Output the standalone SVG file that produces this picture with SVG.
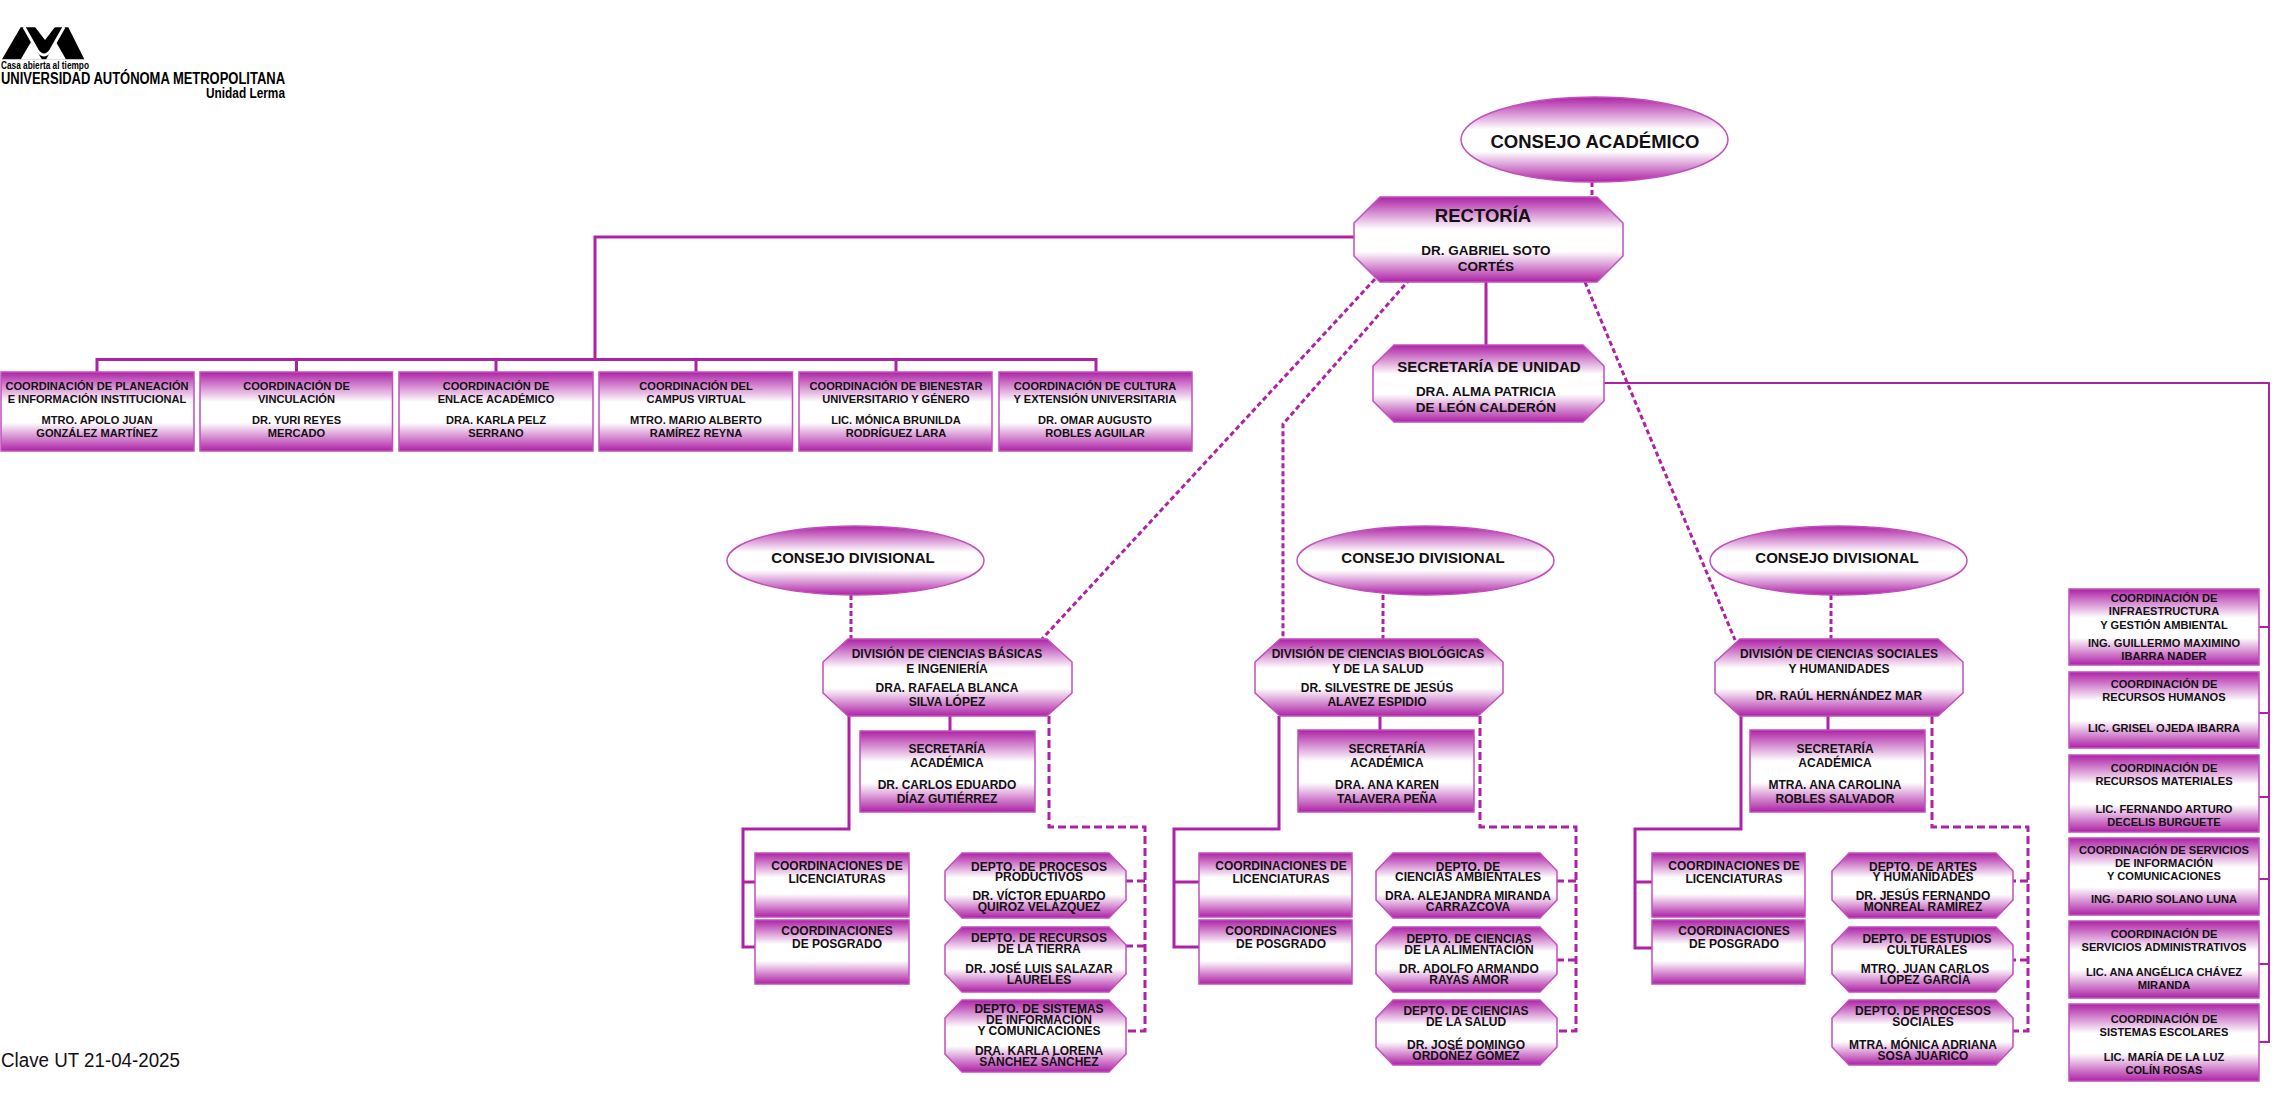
<svg xmlns="http://www.w3.org/2000/svg" width="2286" height="1100" viewBox="0 0 2286 1100">
<style>
text{font-family:"Liberation Sans",Arial,sans-serif;font-weight:bold;fill:#141014;text-anchor:middle}
.b{fill:url(#g);stroke:#c050ba;stroke-width:1.5}
.s{fill:none;stroke:#ae22a6;stroke-width:3}
.n{fill:none;stroke:#ae22a6;stroke-width:2}
.d{fill:none;stroke:#ae22a6;stroke-width:3;stroke-dasharray:8 4}
.e{fill:none;stroke:#ae22a6;stroke-width:3;stroke-dasharray:5 3}
.f20{font-size:18.5px}.f16{font-size:15px}.f15{font-size:13.5px}.f14{font-size:15px}.f12{font-size:12px}.f11{font-size:11.1px}
</style>
<defs>
<linearGradient id="g" x1="0" y1="0" x2="0" y2="1">
<stop offset="0" stop-color="#ae22a6"/><stop offset="0.38" stop-color="#fff"/><stop offset="0.64" stop-color="#fff"/><stop offset="1" stop-color="#ae22a6"/>
</linearGradient>
</defs>
<rect width="2286" height="1100" fill="#fff"/>
<g id="logo">
<polygon points="2,59.300 20.700,27.300 68.300,27.300 84.300,59.300" fill="#000"/>
<polygon points="35,27 55,27 45,40" fill="#fff"/>
<path d="M24,27L37,50Q44,60 51,50L64,27" fill="none" stroke="#fff" stroke-width="3"/>
<polygon points="20.700,59.500 31,42 42,59.500" fill="#fff"/>
<polygon points="66,59.500 56,42 46,59.500" fill="#fff"/>
<text x="1" y="69" style="font-size:10.5px;text-anchor:start;fill:#000" textLength="88" lengthAdjust="spacingAndGlyphs">Casa abierta al tiempo</text>
<text x="1" y="84" style="font-size:16px;text-anchor:start;fill:#000" textLength="284" lengthAdjust="spacingAndGlyphs">UNIVERSIDAD AUTÓNOMA METROPOLITANA</text>
<text x="285" y="98" style="font-size:14px;text-anchor:end;fill:#000" textLength="79" lengthAdjust="spacingAndGlyphs">Unidad Lerma</text>
</g>
<text id="clave" x="1" y="1067" style="font-size:19.5px;font-weight:normal;text-anchor:start" textLength="179" lengthAdjust="spacingAndGlyphs">Clave UT 21-04-2025</text>
<g id="connectors">
<path class="e" d="M1592 182V197"/>
<path class="s" d="M1354 237H595V359.5M97 372V359.5H1096V372M296.5 372V359.5M496 372V359.5M696 372V359.5M896 372V359.5"/>
<path class="s" d="M1486 282V345"/>
<path class="n" d="M1604 383H2269V1042H2259M2259 627H2269M2259 713H2269M2259 797H2269M2259 879H2269M2259 964H2269"/>
<path class="e" d="M1375 279L1042 639"/>
<path class="e" d="M1410 279L1283 424V639"/>
<path class="e" d="M1585 282L1735 640"/>
<path class="e" d="M851 595V639"/>
<path class="e" d="M1383 595V639"/>
<path class="e" d="M1831 595V639"/>
<path class="s" d="M950 716V731M849 716V829H743V947H755M743 882H755"/>
<path class="d" d="M1049 716V827H1145V1031H1126M1145 881H1126M1145 946H1126"/>
<path class="s" d="M1380 716V730M1279 716V829H1174V947H1199M1174 882H1199"/>
<path class="d" d="M1480 716V827H1576V1031H1557M1576 881H1557M1576 960H1557"/>
<path class="s" d="M1828 716V730M1741 716V829H1635V948H1652M1635 882H1652"/>
<path class="d" d="M1932 716V827H2028V1031H2013M2028 881H2013M2028 960H2013"/>
</g>
<g id="consejo-academico"><ellipse class="b" cx="1594.5" cy="139.5" rx="133.5" ry="42.5"/><text class="f20" x="1595" y="148">CONSEJO ACADÉMICO</text></g>
<g id="rectoria"><polygon class="b" points="1380,197 1597,197 1623,223 1623,256 1597,282 1380,282 1354,256 1354,223"/><text class="f20" x="1483" y="222">RECTORÍA</text><text class="f15" x="1486" y="255">DR. GABRIEL SOTO</text><text class="f15" x="1486" y="271">CORTÉS</text></g>
<g id="secretaria-unidad"><polygon class="b" points="1394,345 1583,345 1604,366 1604,401 1583,422 1394,422 1373,401 1373,366"/><text class="f16" x="1489" y="372">SECRETARÍA DE UNIDAD</text><text class="f15" x="1486" y="396">DRA. ALMA PATRICIA</text><text class="f15" x="1486" y="412">DE LEÓN CALDERÓN</text></g>
<g id="coord-1"><rect class="b" x="1" y="372" width="193" height="79"/><text class="f11" x="97" y="390">COORDINACIÓN DE PLANEACIÓN</text><text class="f11" x="97" y="403">E INFORMACIÓN INSTITUCIONAL</text><text class="f11" x="97" y="424">MTRO. APOLO JUAN</text><text class="f11" x="97" y="437">GONZÁLEZ MARTÍNEZ</text></g>
<g id="coord-2"><rect class="b" x="200" y="372" width="192.500" height="79"/><text class="f11" x="296.500" y="390">COORDINACIÓN DE</text><text class="f11" x="296.500" y="403">VINCULACIÓN</text><text class="f11" x="296.500" y="424">DR. YURI REYES</text><text class="f11" x="296.500" y="437">MERCADO</text></g>
<g id="coord-3"><rect class="b" x="399" y="372" width="194" height="79"/><text class="f11" x="496" y="390">COORDINACIÓN DE</text><text class="f11" x="496" y="403">ENLACE ACADÉMICO</text><text class="f11" x="496" y="424">DRA. KARLA PELZ</text><text class="f11" x="496" y="437">SERRANO</text></g>
<g id="coord-4"><rect class="b" x="599" y="372" width="193.500" height="79"/><text class="f11" x="696" y="390">COORDINACIÓN DEL</text><text class="f11" x="696" y="403">CAMPUS VIRTUAL</text><text class="f11" x="696" y="424">MTRO. MARIO ALBERTO</text><text class="f11" x="696" y="437">RAMÍREZ REYNA</text></g>
<g id="coord-5"><rect class="b" x="799" y="372" width="193" height="79"/><text class="f11" x="896" y="390">COORDINACIÓN DE BIENESTAR</text><text class="f11" x="896" y="403">UNIVERSITARIO Y GÉNERO</text><text class="f11" x="896" y="424">LIC. MÓNICA BRUNILDA</text><text class="f11" x="896" y="437">RODRÍGUEZ LARA</text></g>
<g id="coord-6"><rect class="b" x="999" y="372" width="193" height="79"/><text class="f11" x="1095" y="390">COORDINACIÓN DE CULTURA</text><text class="f11" x="1095" y="403">Y EXTENSIÓN UNIVERSITARIA</text><text class="f11" x="1095" y="424">DR. OMAR AUGUSTO</text><text class="f11" x="1095" y="437">ROBLES AGUILAR</text></g>

<g id="consejo-div-1"><ellipse class="b" cx="855.500" cy="560.500" rx="128.500" ry="34.500"/><text class="f14" x="853" y="562.500">CONSEJO DIVISIONAL</text></g>
<g id="consejo-div-2"><ellipse class="b" cx="1425.500" cy="560.500" rx="128.500" ry="34.500"/><text class="f14" x="1423" y="562.500">CONSEJO DIVISIONAL</text></g>
<g id="consejo-div-3"><ellipse class="b" cx="1838.500" cy="560.500" rx="128.500" ry="34.500"/><text class="f14" x="1837" y="562.500">CONSEJO DIVISIONAL</text></g>

<g id="division-1"><polygon class="b" points="848,639 1047,639 1072,662 1072,693 1047,716 848,716 823,693 823,662"/><text class="f12" x="947" y="658">DIVISIÓN DE CIENCIAS BÁSICAS</text><text class="f12" x="947" y="673">E INGENIERÍA</text><text class="f12" x="947" y="692">DRA. RAFAELA BLANCA</text><text class="f12" x="947" y="706">SILVA LÓPEZ</text></g>
<g id="sec-acad-1"><rect class="b" x="860" y="731" width="175" height="81"/><text class="f12" x="947" y="753">SECRETARÍA</text><text class="f12" x="947" y="767">ACADÉMICA</text><text class="f12" x="947" y="789">DR. CARLOS EDUARDO</text><text class="f12" x="947" y="803">DÍAZ GUTIÉRREZ</text></g>
<g id="lic-1"><rect class="b" x="755" y="853" width="154" height="64"/><text class="f12" x="837" y="870">COORDINACIONES DE</text><text class="f12" x="837" y="883">LICENCIATURAS</text></g>
<g id="pos-1"><rect class="b" x="755" y="920" width="154" height="64"/><text class="f12" x="837" y="935">COORDINACIONES</text><text class="f12" x="837" y="948">DE POSGRADO</text></g>
<g id="depto-1-1"><polygon class="b" points="962,853 1109,853 1126,871 1126,900 1109,918 962,918 945,900 945,871"/><text class="f12" x="1039" y="871">DEPTO. DE PROCESOS</text><text class="f12" x="1039" y="881">PRODUCTIVOS</text><text class="f12" x="1039" y="900">DR. VÍCTOR EDUARDO</text><text class="f12" x="1039" y="911">QUIROZ VELÁZQUEZ</text></g>
<g id="depto-1-2"><polygon class="b" points="962,927 1109,927 1126,945 1126,974 1109,992 962,992 945,974 945,945"/><text class="f12" x="1039" y="942">DEPTO. DE RECURSOS</text><text class="f12" x="1039" y="953">DE LA TIERRA</text><text class="f12" x="1039" y="973">DR. JOSÉ LUIS SALAZAR</text><text class="f12" x="1039" y="984">LAURELES</text></g>
<g id="depto-1-3"><polygon class="b" points="962,1000 1109,1000 1126,1018 1126,1054 1109,1072 962,1072 945,1054 945,1018"/><text class="f12" x="1039" y="1013">DEPTO. DE SISTEMAS</text><text class="f12" x="1039" y="1024">DE INFORMACIÓN</text><text class="f12" x="1039" y="1035">Y COMUNICACIONES</text><text class="f12" x="1039" y="1055">DRA. KARLA LORENA</text><text class="f12" x="1039" y="1066">SÁNCHEZ SÁNCHEZ</text></g>

<g id="division-2"><polygon class="b" points="1280,639 1478,639 1503,662 1503,693 1478,716 1280,716 1255,693 1255,662"/><text class="f12" x="1378" y="658">DIVISIÓN DE CIENCIAS BIOLÓGICAS</text><text class="f12" x="1378" y="673">Y DE LA SALUD</text><text class="f12" x="1377" y="692">DR. SILVESTRE DE JESÚS</text><text class="f12" x="1377" y="706">ALAVEZ ESPIDIO</text></g>
<g id="sec-acad-2"><rect class="b" x="1298" y="730" width="176" height="82"/><text class="f12" x="1387" y="753">SECRETARÍA</text><text class="f12" x="1387" y="767">ACADÉMICA</text><text class="f12" x="1387" y="789">DRA. ANA KAREN</text><text class="f12" x="1387" y="803">TALAVERA PEÑA</text></g>
<g id="lic-2"><rect class="b" x="1199" y="853" width="153" height="64"/><text class="f12" x="1281" y="870">COORDINACIONES DE</text><text class="f12" x="1281" y="883">LICENCIATURAS</text></g>
<g id="pos-2"><rect class="b" x="1199" y="920" width="153" height="64"/><text class="f12" x="1281" y="935">COORDINACIONES</text><text class="f12" x="1281" y="948">DE POSGRADO</text></g>
<g id="depto-2-1"><polygon class="b" points="1393,853 1540,853 1557,871 1557,900 1540,918 1393,918 1376,900 1376,871"/><text class="f12" x="1468" y="871">DEPTO. DE</text><text class="f12" x="1468" y="881">CIENCIAS AMBIENTALES</text><text class="f12" x="1468" y="900">DRA. ALEJANDRA MIRANDA</text><text class="f12" x="1468" y="911">CARRAZCOVA</text></g>
<g id="depto-2-2"><polygon class="b" points="1393,927 1540,927 1557,945 1557,974 1540,992 1393,992 1376,974 1376,945"/><text class="f12" x="1469" y="943">DEPTO. DE CIENCIAS</text><text class="f12" x="1469" y="954">DE LA ALIMENTACIÓN</text><text class="f12" x="1469" y="973">DR. ADOLFO ARMANDO</text><text class="f12" x="1469" y="984">RAYAS AMOR</text></g>
<g id="depto-2-3"><polygon class="b" points="1393,1000 1540,1000 1557,1018 1557,1047 1540,1065 1393,1065 1376,1047 1376,1018"/><text class="f12" x="1466" y="1015">DEPTO. DE CIENCIAS</text><text class="f12" x="1466" y="1026">DE LA SALUD</text><text class="f12" x="1466" y="1049">DR. JOSÉ DOMINGO</text><text class="f12" x="1466" y="1060">ORDOÑEZ GÓMEZ</text></g>

<g id="division-3"><polygon class="b" points="1740,639 1938,639 1963,662 1963,693 1938,716 1740,716 1715,693 1715,662"/><text class="f12" x="1839" y="658">DIVISIÓN DE CIENCIAS SOCIALES</text><text class="f12" x="1839" y="673">Y HUMANIDADES</text><text class="f12" x="1839" y="700">DR. RAÚL HERNÁNDEZ MAR</text></g>
<g id="sec-acad-3"><rect class="b" x="1750" y="730" width="175" height="82"/><text class="f12" x="1835" y="753">SECRETARÍA</text><text class="f12" x="1835" y="767">ACADÉMICA</text><text class="f12" x="1835" y="789">MTRA. ANA CAROLINA</text><text class="f12" x="1835" y="803">ROBLES SALVADOR</text></g>
<g id="lic-3"><rect class="b" x="1652" y="853" width="153" height="64"/><text class="f12" x="1734" y="870">COORDINACIONES DE</text><text class="f12" x="1734" y="883">LICENCIATURAS</text></g>
<g id="pos-3"><rect class="b" x="1652" y="920" width="153" height="64"/><text class="f12" x="1734" y="935">COORDINACIONES</text><text class="f12" x="1734" y="948">DE POSGRADO</text></g>
<g id="depto-3-1"><polygon class="b" points="1849,853 1996,853 2013,871 2013,900 1996,918 1849,918 1832,900 1832,871"/><text class="f12" x="1923" y="871">DEPTO. DE ARTES</text><text class="f12" x="1923" y="881">Y HUMANIDADES</text><text class="f12" x="1923" y="900">DR. JESÚS FERNANDO</text><text class="f12" x="1923" y="911">MONREAL RAMÍREZ</text></g>
<g id="depto-3-2"><polygon class="b" points="1849,927 1996,927 2013,945 2013,974 1996,992 1849,992 1832,974 1832,945"/><text class="f12" x="1927" y="943">DEPTO. DE ESTUDIOS</text><text class="f12" x="1927" y="954">CULTURALES</text><text class="f12" x="1925" y="973">MTRO. JUAN CARLOS</text><text class="f12" x="1925" y="984">LÓPEZ GARCÍA</text></g>
<g id="depto-3-3"><polygon class="b" points="1849,1000 1996,1000 2013,1018 2013,1047 1996,1065 1849,1065 1832,1047 1832,1018"/><text class="f12" x="1923" y="1015">DEPTO. DE PROCESOS</text><text class="f12" x="1923" y="1026">SOCIALES</text><text class="f12" x="1923" y="1049">MTRA. MÓNICA ADRIANA</text><text class="f12" x="1923" y="1060">SOSA JUARICO</text></g>

<g id="admin-1"><rect class="b" x="2069" y="589" width="190" height="76"/><text class="f11" x="2164" y="602">COORDINACIÓN DE</text><text class="f11" x="2164" y="615">INFRAESTRUCTURA</text><text class="f11" x="2164" y="629">Y GESTIÓN AMBIENTAL</text><text class="f11" x="2164" y="647">ING. GUILLERMO MAXIMINO</text><text class="f11" x="2164" y="660">IBARRA NADER</text></g>
<g id="admin-2"><rect class="b" x="2069" y="672" width="190" height="76"/><text class="f11" x="2164" y="688">COORDINACIÓN DE</text><text class="f11" x="2164" y="701">RECURSOS HUMANOS</text><text class="f11" x="2164" y="732">LIC. GRISEL OJEDA IBARRA</text></g>
<g id="admin-3"><rect class="b" x="2069" y="755" width="190" height="77"/><text class="f11" x="2164" y="772">COORDINACIÓN DE</text><text class="f11" x="2164" y="785">RECURSOS MATERIALES</text><text class="f11" x="2164" y="813">LIC. FERNANDO ARTURO</text><text class="f11" x="2164" y="826">DECELIS BURGUETE</text></g>
<g id="admin-4"><rect class="b" x="2069" y="838" width="190" height="77"/><text class="f11" x="2164" y="854">COORDINACIÓN DE SERVICIOS</text><text class="f11" x="2164" y="867">DE INFORMACIÓN</text><text class="f11" x="2164" y="880">Y COMUNICACIONES</text><text class="f11" x="2164" y="903">ING. DARIO SOLANO LUNA</text></g>
<g id="admin-5"><rect class="b" x="2069" y="921" width="190" height="77"/><text class="f11" x="2164" y="938">COORDINACIÓN DE</text><text class="f11" x="2164" y="951">SERVICIOS ADMINISTRATIVOS</text><text class="f11" x="2164" y="976">LIC. ANA ANGÉLICA CHÁVEZ</text><text class="f11" x="2164" y="989">MIRANDA</text></g>
<g id="admin-6"><rect class="b" x="2069" y="1004" width="190" height="77"/><text class="f11" x="2164" y="1023">COORDINACIÓN DE</text><text class="f11" x="2164" y="1036">SISTEMAS ESCOLARES</text><text class="f11" x="2164" y="1061">LIC. MARÍA DE LA LUZ</text><text class="f11" x="2164" y="1074">COLÍN ROSAS</text></g>
</svg>
